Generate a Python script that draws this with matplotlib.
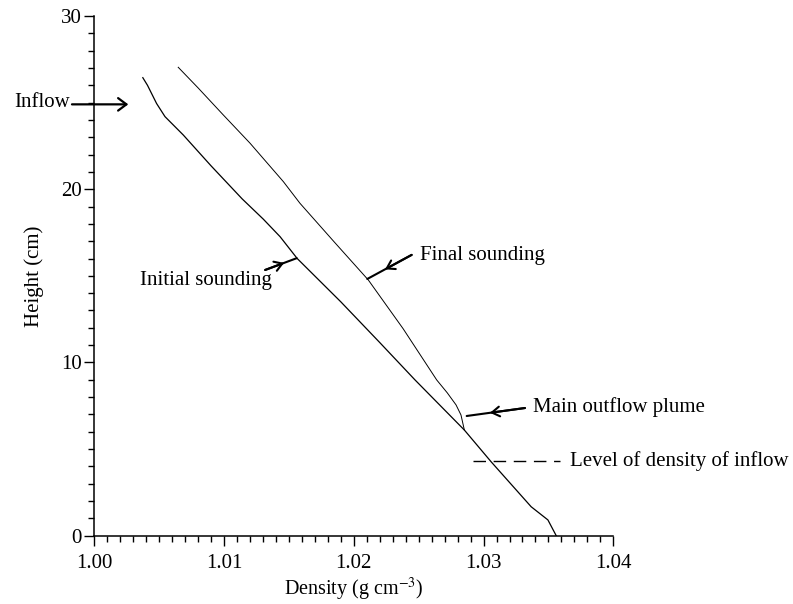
import matplotlib
matplotlib.use("Agg")
import matplotlib.pyplot as plt
from matplotlib.ticker import MultipleLocator, FormatStrFormatter

plt.rcParams['font.family'] = ['Liberation Serif', 'DejaVu Serif']
plt.rcParams['mathtext.fontset'] = 'stix'
plt.rcParams['lines.scale_dashes'] = False

# density soundings
init_rho = [1.00374, 1.0041, 1.0048, 1.00545, 1.00686, 1.0090, 1.0114, 1.01303,
            1.01432, 1.01564, 1.0190, 1.02200, 1.02472, 1.02852, 1.03058,
            1.03367, 1.03496, 1.0356]
init_z = [26.44, 26.0, 24.95, 24.19, 23.13, 21.35, 19.44, 18.27,
          17.26, 16.0, 13.5, 11.15, 8.99, 6.10, 4.27,
          1.67, 0.91, 0.0]

final_rho = [1.00647, 1.0080, 1.00994, 1.0120, 1.01457, 1.01585, 1.0185,
             1.02112, 1.0238, 1.02639, 1.0272, 1.02788, 1.02826, 1.02852]
final_z = [27.04, 25.85, 24.29, 22.66, 20.44, 19.19, 16.95,
           14.76, 11.95, 8.99, 8.25, 7.55, 6.97, 6.10]

inflow_level = 4.31
inflow_height = 24.9

fig = plt.figure(figsize=(7.93, 6.04), dpi=100)
ax = fig.add_axes([0.1189, 0.1131, 0.6545, 0.8604])

ax.plot(init_rho, init_z, color='black', lw=0.9)
ax.plot(final_rho, final_z, color='black', lw=0.7)

ax.set_xlim(1.00, 1.04)
ax.set_ylim(0, 30)
ax.xaxis.set_major_locator(MultipleLocator(0.01))
ax.xaxis.set_minor_locator(MultipleLocator(0.001))
ax.xaxis.set_major_formatter(FormatStrFormatter('%.2f'))
ax.yaxis.set_major_locator(MultipleLocator(10))
ax.yaxis.set_minor_locator(MultipleLocator(1))
ax.spines['top'].set_visible(False)
ax.spines['right'].set_visible(False)
for s in ('left', 'bottom'):
    ax.spines[s].set_linewidth(1.1)
ax.tick_params(which='major', length=7, width=1.0, labelsize=15, pad=2)
ax.tick_params(axis='x', which='major', pad=6)
ax.tick_params(which='minor', length=4.3, width=1.0)

ax.set_xlabel('Density (g cm$^{-3}$)', fontsize=14.5, labelpad=2)
ax.set_ylabel('Height (cm)', fontsize=15, labelpad=12)

# dashed level of inflow density
ax.plot([1.02916, 1.03589], [inflow_level, inflow_level], color='black', lw=1.0,
        dashes=(9, 5.5), clip_on=False)
ax.text(1.0367, inflow_level, 'Level of density of inflow', fontsize=15,
        va='center', ha='left')

# inflow arrow
ax.annotate('', xy=(1.00262, inflow_height), xytext=(0.99828, inflow_height),
            arrowprops=dict(arrowstyle='->,head_length=0.6,head_width=0.45',
                            lw=1.6, color='black', shrinkA=0, shrinkB=0),
            annotation_clip=False)
ax.text(0.9981, inflow_height + 0.1, 'Inflow', fontsize=15, ha='right', va='center')


def mid_arrow(tail, tip, frac=0.6):
    ax.annotate('', xy=tip, xytext=tail,
                arrowprops=dict(arrowstyle='-', lw=1.5, color='black',
                                shrinkA=0, shrinkB=0), annotation_clip=False)
    mid = (tail[0] + frac * (tip[0] - tail[0]), tail[1] + frac * (tip[1] - tail[1]))
    ax.annotate('', xy=mid, xytext=tail,
                arrowprops=dict(arrowstyle='->,head_length=0.55,head_width=0.35',
                                lw=1.5, color='black', shrinkA=0, shrinkB=0),
                annotation_clip=False)


mid_arrow((1.01317, 15.34), (1.0156, 16.02))
ax.text(1.0137, 14.75, 'Initial sounding', fontsize=15, ha='right', va='center')

mid_arrow((1.02446, 16.21), (1.02104, 14.82))
ax.text(1.0251, 16.2, 'Final sounding', fontsize=15, ha='left', va='center')

mid_arrow((1.03319, 7.37), (1.0287, 6.91))
ax.text(1.0338, 7.45, 'Main outflow plume', fontsize=15, ha='left', va='center')

fig.savefig('out.png', dpi=100)
